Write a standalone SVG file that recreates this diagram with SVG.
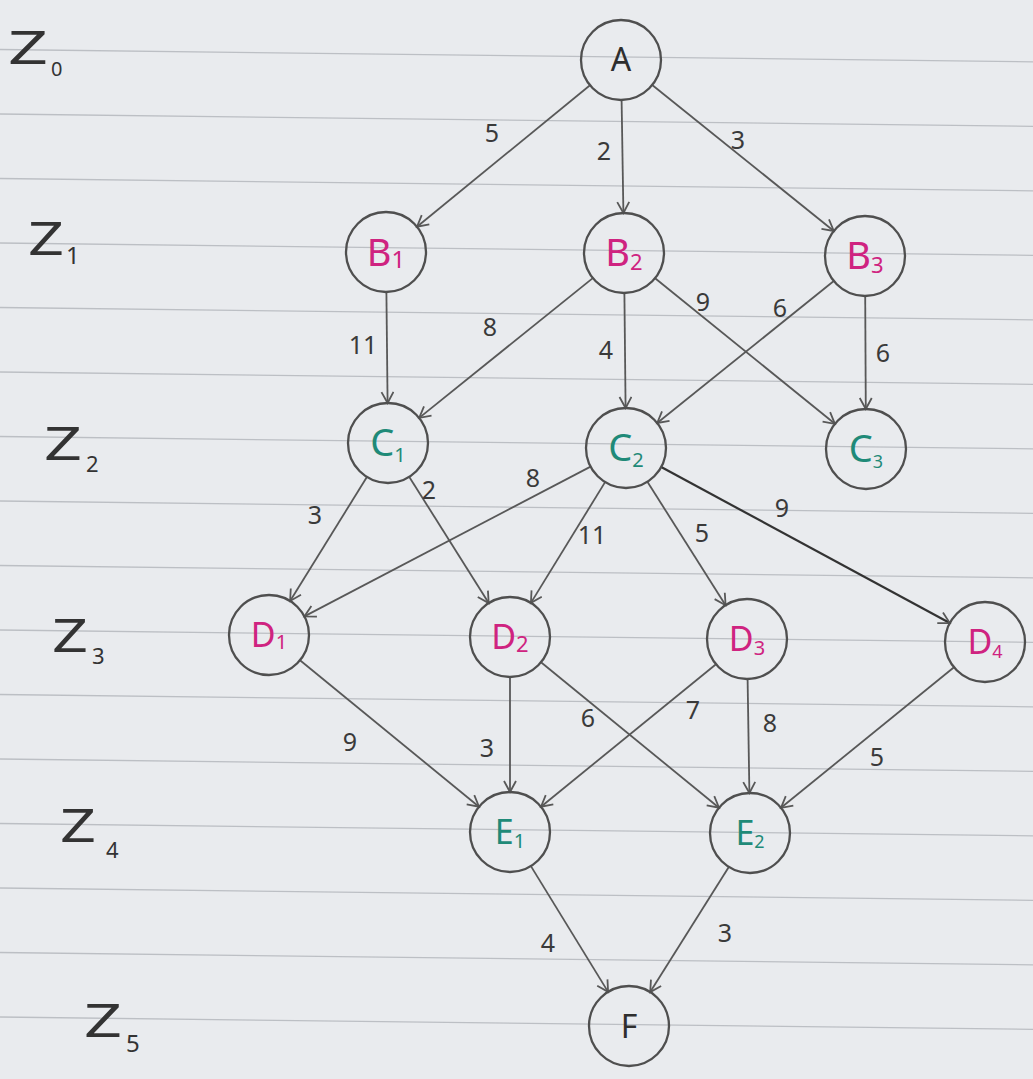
<svg xmlns="http://www.w3.org/2000/svg" width="1033" height="1079" viewBox="0 0 1033 1079">
<defs>
<style>
.rule{stroke:#bcbfc4;stroke-width:1.3}
.edge{stroke:#585858;stroke-width:1.8;fill:none;marker-end:url(#arr)}
.node{fill:none;stroke:#4f4f4f;stroke-width:2.3}
.lbl{font-family:"Noto Sans","Liberation Sans",sans-serif;text-anchor:middle}
.blk{fill:#2e2e2e}
.mag{fill:#cf2380}
.teal{fill:#1f8a78}
.num{font-family:"Noto Sans","Liberation Sans",sans-serif;font-size:25px;fill:#3a3a3a;text-anchor:middle}
.z{font-family:"Noto Sans","Liberation Sans",sans-serif;fill:#333}
</style>
<marker id="arr" markerUnits="userSpaceOnUse" markerWidth="16" markerHeight="16" refX="12" refY="7" orient="auto">
<path d="M1,1 L12,7 L1,13" fill="none" stroke="#585858" stroke-width="1.8"/>
</marker>
</defs>
<rect width="1033" height="1079" fill="#e9ebee"/>
<g id="ruled-lines">
<line class="rule" x1="0" y1="49.5" x2="1033" y2="61.9"/>
<line class="rule" x1="0" y1="114" x2="1033" y2="126.4"/>
<line class="rule" x1="0" y1="178.5" x2="1033" y2="190.9"/>
<line class="rule" x1="0" y1="243" x2="1033" y2="255.4"/>
<line class="rule" x1="0" y1="307.5" x2="1033" y2="319.9"/>
<line class="rule" x1="0" y1="372" x2="1033" y2="384.4"/>
<line class="rule" x1="0" y1="436.5" x2="1033" y2="448.9"/>
<line class="rule" x1="0" y1="501" x2="1033" y2="513.4"/>
<line class="rule" x1="0" y1="565.5" x2="1033" y2="577.9"/>
<line class="rule" x1="0" y1="630" x2="1033" y2="642.4"/>
<line class="rule" x1="0" y1="694.5" x2="1033" y2="706.9"/>
<line class="rule" x1="0" y1="759" x2="1033" y2="771.4"/>
<line class="rule" x1="0" y1="823.5" x2="1033" y2="835.9"/>
<line class="rule" x1="0" y1="888" x2="1033" y2="900.4"/>
<line class="rule" x1="0" y1="952.5" x2="1033" y2="964.9"/>
<line class="rule" x1="0" y1="1017" x2="1033" y2="1029.4"/>
</g>
<g id="levels">
<text class="z" x="8" y="64" font-size="46" textLength="40" lengthAdjust="spacingAndGlyphs">Z</text><text class="z" x="51" y="76" font-size="20">0</text>
<text class="z" x="28" y="255" font-size="46" textLength="36" lengthAdjust="spacingAndGlyphs">Z</text><text class="z" x="66" y="264" font-size="24">1</text>
<text class="z" x="44" y="460" font-size="46" textLength="38" lengthAdjust="spacingAndGlyphs">Z</text><text class="z" x="86" y="472" font-size="22">2</text>
<text class="z" x="52" y="652" font-size="46" textLength="36" lengthAdjust="spacingAndGlyphs">Z</text><text class="z" x="92" y="664" font-size="22">3</text>
<text class="z" x="60" y="842" font-size="46" textLength="36" lengthAdjust="spacingAndGlyphs">Z</text><text class="z" x="106" y="858" font-size="22">4</text>
<text class="z" x="84" y="1037" font-size="46" textLength="38" lengthAdjust="spacingAndGlyphs">Z</text><text class="z" x="126" y="1052" font-size="24">5</text>
</g>
<g id="connectors">
<line class="edge" x1="590" y1="85.3" x2="417" y2="226.7"/>
<line class="edge" x1="621.6" y1="100" x2="623.4" y2="213"/>
<line class="edge" x1="652.2" y1="85" x2="833.8" y2="231"/>
<line class="edge" x1="386.4" y1="292" x2="387.6" y2="403"/>
<line class="edge" x1="592.8" y1="278.1" x2="419.2" y2="417.9"/>
<line class="edge" x1="624.4" y1="293" x2="625.6" y2="408"/>
<line class="edge" x1="655.1" y1="278.2" x2="834.9" y2="423.8"/>
<line class="edge" x1="833.8" y1="281" x2="657.2" y2="423"/>
<line class="edge" x1="865.2" y1="296" x2="865.8" y2="409"/>
<line class="edge" x1="366.9" y1="477" x2="290.1" y2="601"/>
<line class="edge" x1="409.3" y1="476.9" x2="488.7" y2="603.1"/>
<line class="edge" x1="590.6" y1="466.6" x2="304.4" y2="616.4"/>
<line class="edge" x1="605.1" y1="482.1" x2="530.9" y2="602.9"/>
<line class="edge" x1="647.4" y1="481.8" x2="725.6" y2="605.2"/>
<line class="edge" x1="661.2" y1="467" x2="949.8" y2="623" style="stroke:#333;stroke-width:2.2"/>
<line class="edge" x1="300" y1="660.3" x2="479" y2="806.7"/>
<line class="edge" x1="510" y1="677" x2="510" y2="792"/>
<line class="edge" x1="541" y1="662.3" x2="719" y2="807.7"/>
<line class="edge" x1="716" y1="664.3" x2="541" y2="806.7"/>
<line class="edge" x1="747.6" y1="679" x2="749.4" y2="793"/>
<line class="edge" x1="954" y1="667.2" x2="781" y2="807.8"/>
<line class="edge" x1="530.9" y1="866.1" x2="608.1" y2="991.9"/>
<line class="edge" x1="728.8" y1="866.9" x2="650.2" y2="992.1"/>
</g>
<g id="edge-labels">
<text class="num" x="492" y="142">5</text>
<text class="num" x="604" y="160">2</text>
<text class="num" x="738" y="149">3</text>
<text class="num" x="363" y="354">11</text>
<text class="num" x="490" y="336">8</text>
<text class="num" x="606" y="359">4</text>
<text class="num" x="703" y="311">9</text>
<text class="num" x="780" y="317">6</text>
<text class="num" x="883" y="362">6</text>
<text class="num" x="315" y="524">3</text>
<text class="num" x="429" y="499">2</text>
<text class="num" x="533" y="487">8</text>
<text class="num" x="592" y="544">11</text>
<text class="num" x="702" y="542">5</text>
<text class="num" x="782" y="517">9</text>
<text class="num" x="350" y="751">9</text>
<text class="num" x="487" y="757">3</text>
<text class="num" x="588" y="727">6</text>
<text class="num" x="693" y="719">7</text>
<text class="num" x="770" y="732">8</text>
<text class="num" x="877" y="766">5</text>
<text class="num" x="548" y="952">4</text>
<text class="num" x="725" y="942">3</text>
</g>
<g id="node-A"><circle class="node" cx="621" cy="60" r="40"/><text class="lbl blk" x="621" y="71" font-size="32">A</text></g>
<g id="node-B1"><circle class="node" cx="386" cy="252" r="40"/><text class="lbl mag" x="386" y="266" font-size="38">B<tspan font-size="24" dy="2">1</tspan></text></g>
<g id="node-B2"><circle class="node" cx="624" cy="253" r="40"/><text class="lbl mag" x="624" y="266" font-size="38">B<tspan font-size="22" dy="4">2</tspan></text></g>
<g id="node-B3"><circle class="node" cx="865" cy="256" r="40"/><text class="lbl mag" x="865" y="269" font-size="38">B<tspan font-size="22" dy="4">3</tspan></text></g>
<g id="node-C1"><circle class="node" cx="388" cy="443" r="40"/><text class="lbl teal" x="388" y="456" font-size="38">C<tspan font-size="20" dy="6">1</tspan></text></g>
<g id="node-C2"><circle class="node" cx="626" cy="448" r="40"/><text class="lbl teal" x="626" y="461" font-size="38">C<tspan font-size="20" dy="6">2</tspan></text></g>
<g id="node-C3"><circle class="node" cx="866" cy="449" r="40"/><text class="lbl teal" x="866" y="462" font-size="38">C<tspan font-size="18" dy="6">3</tspan></text></g>
<g id="node-D1"><circle class="node" cx="269" cy="635" r="40"/><text class="lbl mag" x="269" y="647" font-size="34">D<tspan font-size="20" dy="2">1</tspan></text></g>
<g id="node-D2"><circle class="node" cx="510" cy="637" r="40"/><text class="lbl mag" x="510" y="649" font-size="34">D<tspan font-size="22" dy="3">2</tspan></text></g>
<g id="node-D3"><circle class="node" cx="747" cy="639" r="40"/><text class="lbl mag" x="747" y="651" font-size="34">D<tspan font-size="20" dy="4">3</tspan></text></g>
<g id="node-D4"><circle class="node" cx="985" cy="642" r="40"/><text class="lbl mag" x="985" y="654" font-size="34">D<tspan font-size="18" dy="4">4</tspan></text></g>
<g id="node-E1"><circle class="node" cx="510" cy="832" r="40"/><text class="lbl teal" x="510" y="844" font-size="34">E<tspan font-size="20" dy="4">1</tspan></text></g>
<g id="node-E2"><circle class="node" cx="750" cy="833" r="40"/><text class="lbl teal" x="750" y="845" font-size="34">E<tspan font-size="18" dy="3">2</tspan></text></g>
<g id="node-F"><circle class="node" cx="629" cy="1026" r="40"/><text class="lbl blk" x="629" y="1038" font-size="32">F</text></g>
</svg>
